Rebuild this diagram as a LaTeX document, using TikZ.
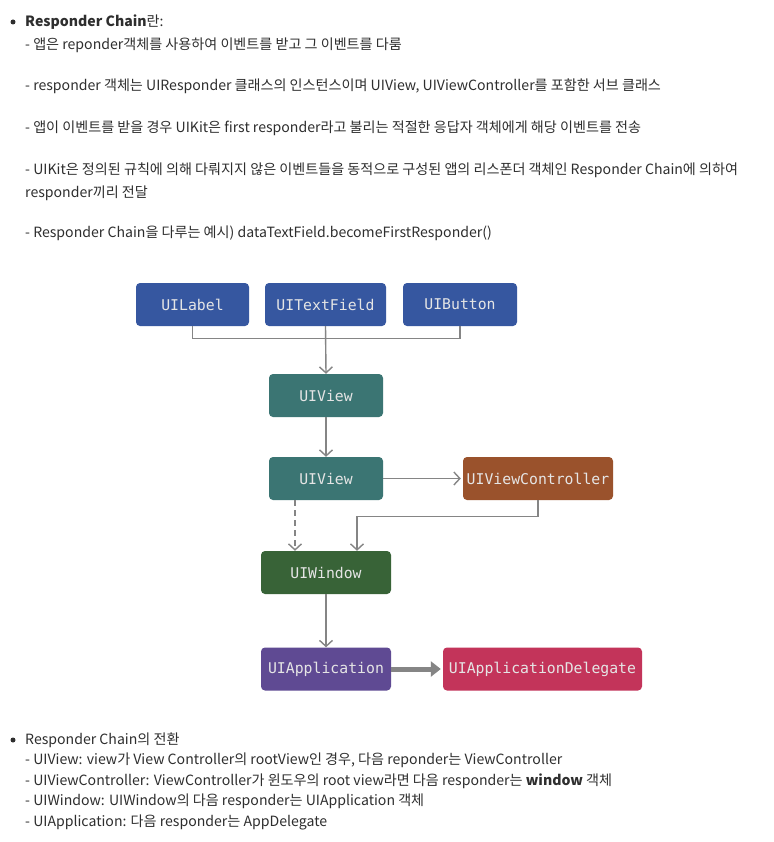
\documentclass[tikz,border=0pt]{standalone}
\usepackage{fontspec}
\setmainfont{Noto Sans CJK KR}
\newfontfamily\boxfont{DejaVu Sans Mono}
\usetikzlibrary{arrows.meta,positioning}
\definecolor{txt}{HTML}{2E2E2E}
\definecolor{cblue}{HTML}{3657A0}
\definecolor{cteal}{HTML}{3B7573}
\definecolor{cbrown}{HTML}{9A522C}
\definecolor{cgreen}{HTML}{386337}
\definecolor{cpurple}{HTML}{5F4A93}
\definecolor{ccrim}{HTML}{C3345A}
\definecolor{cline}{HTML}{858585}
\begin{document}
\begin{tikzpicture}[x=1pt,y=-1pt,
  body/.style={anchor=west,inner sep=0pt,text=txt,font=\fontsize{14.1}{17}\selectfont},
  box/.style={rounded corners=4pt,minimum height=43pt,text=white!90!black,font=\boxfont\fontsize{14.8}{17}\selectfont,inner sep=0pt},
  line/.style={draw=cline,line width=1.4pt},
  arr/.style={line,-{Straight Barb[length=6pt,width=13pt]}},
  bullet/.style={circle,fill=txt,inner sep=0pt,minimum size=5pt}
]
\useasboundingbox (0,0) rectangle (773,842);
\fill[white] (0,0) rectangle (773,842);

% top text
\node[bullet] (b1) at (13,22) {};
\node[body] (t0) at (25,22) {\textbf{Responder Chain}란:};
\node[body] (t1) at (25,45) {- 앱은 reponder객체를 사용하여 이벤트를 받고 그 이벤트를 다룸};
\node[body] (t2) at (25,86) {- responder 객체는 UIResponder 클래스의 인스턴스이며 UIView, UIViewController를 포함한 서브 클래스};
\node[body] (t3) at (25,128) {- 앱이 이벤트를 받을 경우 UIKit은 first responder라고 불리는 적절한 응답자 객체에게 해당 이벤트를 전송};
\node[body] (t4) at (25,170) {- UIKit은 정의된 규칙에 의해 다뤄지지 않은 이벤트들을 동적으로 구성된 앱의 리스폰더 객체인 Responder Chain에 의하여};
\node[body] (t5) at (25,193) {responder끼리 전달};
\node[body] (t6) at (25,233) {- Responder Chain을 다루는 예시) dataTextField.becomeFirstResponder()};

% diagram nodes
\node[box,fill=cblue,minimum width=113pt] (l) at (192.5,304.5) {UILabel};
\node[box,fill=cblue,minimum width=121pt] (t) at (325.5,304.5) {UITextField};
\node[box,fill=cblue,minimum width=114pt] (b) at (460,304.5) {UIButton};
\node[box,fill=cteal,minimum width=114pt] (v1) at (326,395.5) {UIView};
\node[box,fill=cteal,minimum width=114pt] (v2) at (326,478.5) {UIView};
\node[box,fill=cbrown,minimum width=150pt] (vc) at (538,478.5) {UIViewController};
\node[box,fill=cgreen,minimum width=130pt] (w) at (326,572.5) {UIWindow};
\node[box,fill=cpurple,minimum width=130pt] (a) at (326,669) {UIApplication};
\node[box,fill=ccrim,minimum width=199pt] (d) at (542.5,669) {UIApplicationDelegate};

% connectors
\draw[line] (l.south) -- ++(0,12) -| (b.south);
\draw[arr] (t.south) -- (v1.north);
\draw[arr] (v1.south) -- (v2.north);
\draw[arr] (v2.east) -- ([xshift=-2pt]vc.west);
\draw[arr] (vc.south) -- ++(0,16) -| ([xshift=31pt]w.north);
\draw[arr,dash pattern=on 6pt off 4pt] ([xshift=-31pt]v2.south) -- ([xshift=-31pt]w.north);
\draw[arr] (w.south) -- (a.north);
\draw[draw=cline,line width=5pt,-{Triangle[length=10pt,width=15pt]}] (a.east) -- ([xshift=-2pt]d.west);

% bottom text
\node[bullet] (b2) at (13,740) {};
\node[body] (s0) at (25,740) {Responder Chain의 전환};
\node[body] (s1) at (25,760.5) {- UIView: view가 View Controller의 rootView인 경우, 다음 reponder는 ViewController};
\node[body] (s2) at (25,781) {- UIViewController: ViewController가 윈도우의 root view라면 다음 responder는 \textbf{window} 객체};
\node[body] (s3) at (25,801.5) {- UIWindow: UIWindow의 다음 responder는 UIApplication 객체};
\node[body] (s4) at (25,822) {- UIApplication: 다음 responder는 AppDelegate};
\end{tikzpicture}
\end{document}
